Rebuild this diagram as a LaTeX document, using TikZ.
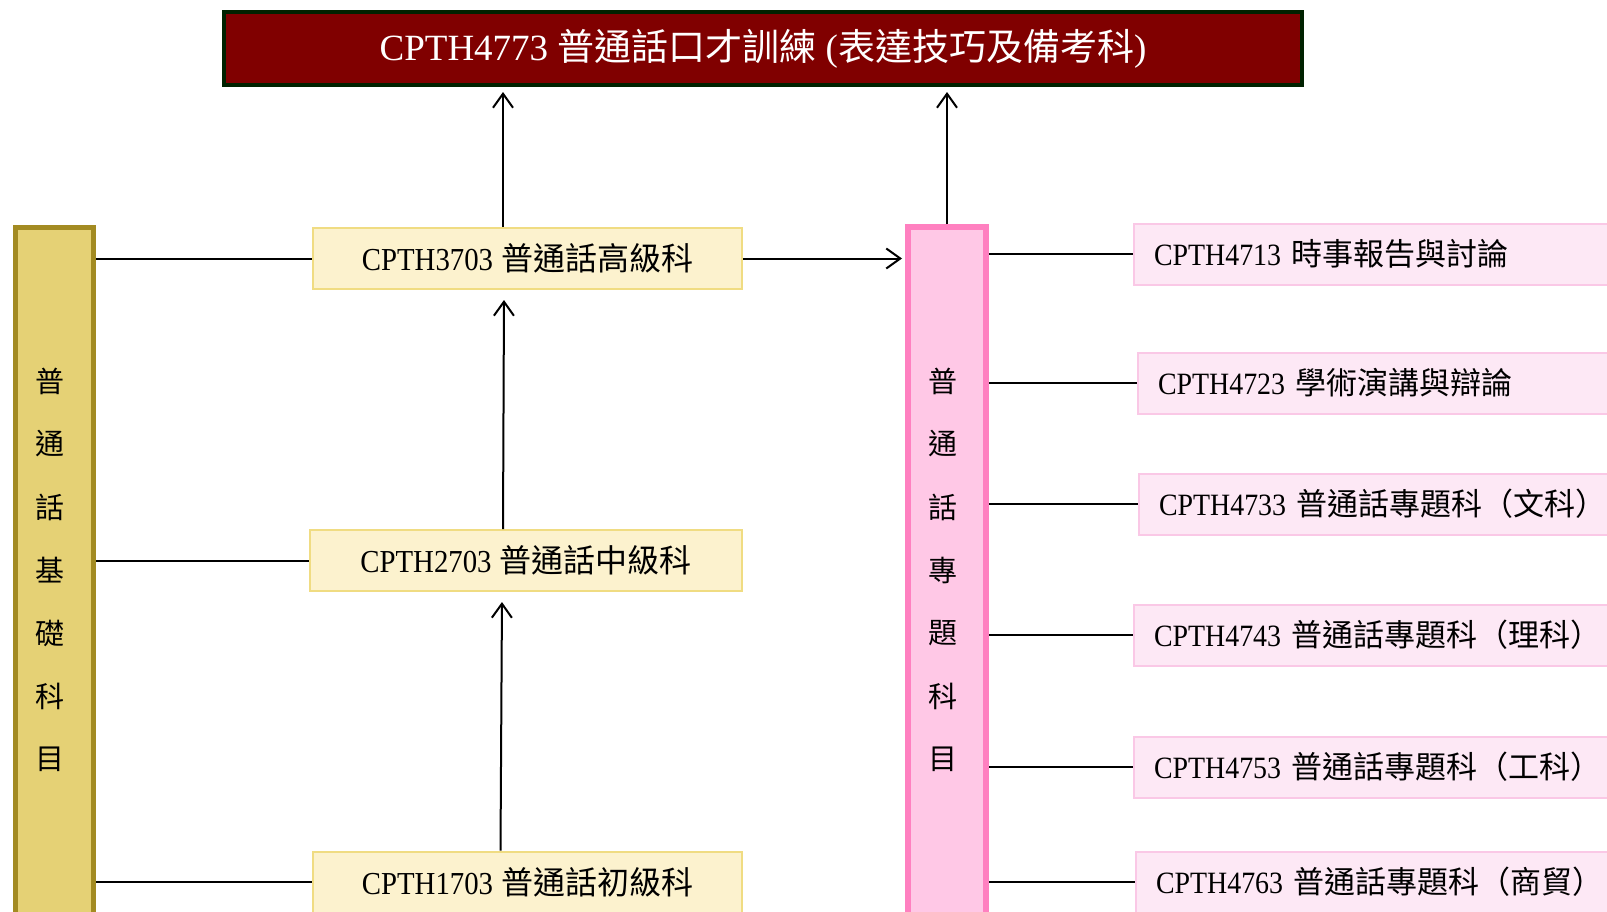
\documentclass[tikz,border=0pt]{standalone}
\usepackage{fontspec}
\setmainfont{Liberation Serif}
\newfontfamily\cjk{Noto Sans CJK TC}
\newfontfamily\latn[FakeStretch=0.9]{Liberation Serif}
\usetikzlibrary{arrows.meta}

\definecolor{titlered}{HTML}{800000}
\definecolor{titleline}{HTML}{002200}
\definecolor{basebar}{HTML}{E5D175}
\definecolor{baseline}{HTML}{A38B22}
\definecolor{basebox}{HTML}{FCF2CE}
\definecolor{baseboxline}{HTML}{F0DC82}
\definecolor{topicbar}{HTML}{FFC8E6}
\definecolor{topicline}{HTML}{FF80C0}
\definecolor{topicbox}{HTML}{FDE8F5}
\definecolor{topicboxline}{HTML}{FAC8E6}

\def\course#1#2{{\latn #1} {\cjk #2}}

\tikzset{
  link/.style={line width=2pt},
  arr/.style={link,-{Straight Barb[length=14pt,width=20pt]},shorten >=5pt},
  titlebox/.style={draw=titleline,fill=titlered,line width=4pt,text=white,
    minimum width=1078pt,minimum height=73pt,inner sep=0pt,
    font=\fontsize{37}{40}\selectfont},
  bar/.style={minimum width=78pt,minimum height=750pt,inner sep=0pt},
  basebarbox/.style={bar,draw=baseline,fill=basebar,line width=5pt},
  topicbarbox/.style={bar,draw=topicline,fill=topicbar,line width=6pt},
  levelbox/.style={draw=baseboxline,fill=basebox,line width=2pt,
    minimum height=61pt,inner sep=0pt,font=\fontsize{32}{36}\selectfont},
  topicitem/.style={draw=topicboxline,fill=topicbox,line width=2pt,anchor=west,
    minimum height=61pt,text width=480pt,inner xsep=20pt,inner ysep=0pt,align=left,
    font=\fontsize{31}{35}\selectfont},
  vtext/.style={inner sep=0pt,font=\cjk\fontsize{29}{30}\selectfont}
}

\begin{document}
\begin{tikzpicture}[x=1pt,y=-1pt]
\useasboundingbox (0,0) rectangle (1607,911);
\clip (0,0) rectangle (1607,911);

% title
\node[titlebox] (title) at (763,48.5) {{\rmfamily CPTH4773} {\cjk 普通話口才訓練} {\rmfamily (}{\cjk 表達技巧及備考科}{\rmfamily )}};

% two columns of subjects
\node[basebarbox] (jcbar) at (54.5,602.5) {};
\node[topicbarbox] (ztbar) at (947,602) {};

\foreach \c [count=\i] in {普,通,話,基,礎,科,目} {\node[vtext] (jc\i) at (50,318+63*\i) {\c};}
\foreach \c [count=\i] in {普,通,話,專,題,科,目} {\node[vtext] (zt\i) at (943,318+63*\i) {\c};}

% levels
\node[levelbox,minimum width=429pt] (lv3) at (527.5,258.5) {\course{CPTH3703}{普通話高級科}};
\node[levelbox,minimum width=432pt] (lv2) at (526,560.5) {\course{CPTH2703}{普通話中級科}};
\node[levelbox,minimum width=429pt] (lv1) at (527.5,882) {\course{CPTH1703}{普通話初級科}};

% topics
\foreach \code/\name/\x/\y [count=\i] in {
  CPTH4713/時事報告與討論/1133/254,
  CPTH4723/學術演講與辯論/1137/383,
  CPTH4733/普通話專題科（文科）/1138/504,
  CPTH4743/普通話專題科（理科）/1133/635,
  CPTH4753/普通話專題科（工科）/1133/767,
  CPTH4763/普通話專題科（商貿）/1135/882}
{\node[topicitem] (pk\i) at (\x,\y) {\course{\code}{\name}};}

% connectors
\foreach \n in {lv3,lv2,lv1} {\draw[link] (jcbar.east |- \n.west) -- (\n.west);}
\foreach \i in {1,...,6} {\draw[link] (ztbar.east |- pk\i.west) -- (pk\i.west);}

\draw[arr] ([xshift=-27pt]lv1.north) -- ([xshift=-24pt,yshift=-5pt]lv2.south);
\draw[arr] ([xshift=-23pt]lv2.north) -- ([xshift=-23.5pt,yshift=-5pt]lv3.south);
\draw[arr] ([xshift=-24.5pt]lv3.north) -- ([xshift=-24.5pt]lv3.north |- title.south);
\draw[arr,shorten >=3pt] (lv3.east) -- (lv3.east -| ztbar.west);
\draw[arr] (ztbar.north) -- (ztbar.north |- title.south);

\end{tikzpicture}
\end{document}
